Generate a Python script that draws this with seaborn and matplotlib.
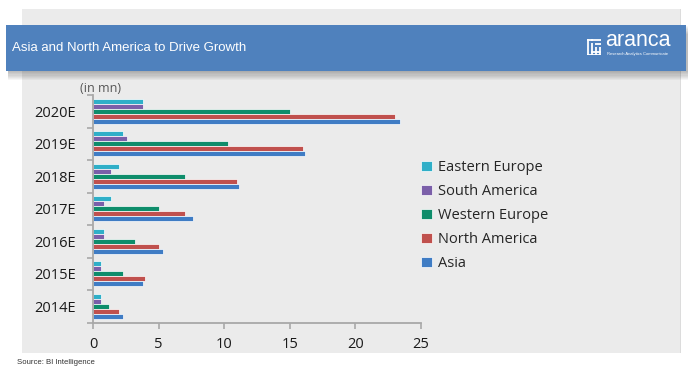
import matplotlib
matplotlib.use('Agg')
import matplotlib.pyplot as plt
import seaborn as sns
import pandas as pd
import numpy as np
from matplotlib.patches import Rectangle
from matplotlib import font_manager

# ---------------- data ----------------
years = ['2020E', '2019E', '2018E', '2017E', '2016E', '2015E', '2014E']
regions = ['Eastern Europe', 'South America', 'Western Europe', 'North America', 'Asia']
eastern_europe = [3.8, 2.3, 2.0, 1.4, 0.85, 0.6, 0.6]
south_america = [3.8, 2.6, 1.4, 0.85, 0.85, 0.6, 0.6]
western_europe = [15.0, 10.3, 7.05, 5.0, 3.2, 2.3, 1.2]
north_america = [23.0, 16.0, 11.0, 7.0, 5.0, 4.0, 2.0]
asia = [23.4, 16.15, 11.1, 7.6, 5.3, 3.8, 2.3]
xticks = [0, 5, 10, 15, 20, 25]
title = 'Asia and North America to Drive Growth'
unit_label = '(in mn)'
source = 'Source: BI Intelligence'

colors = ['#2fafc8', '#7b5fa9', '#0e8d6b', '#c0504d', '#3f7cc4']

series = [eastern_europe, south_america, western_europe, north_america, asia]
rows = []
for reg, vals in zip(regions, series):
    for y, v in zip(years, vals):
        rows.append({'year': y, 'region': reg, 'value': v})
df = pd.DataFrame(rows)

# ---------------- style ----------------
sns.set_theme(style='white')
plt.rcParams['font.family'] = ['Open Sans', 'DejaVu Sans']

names = {f.name for f in font_manager.fontManager.ttflist}
if 'Liberation Sans Narrow' in names:
    title_family, title_size = 'Liberation Sans Narrow', 11.5
else:
    title_family, title_size = 'Liberation Sans', 9.5

W, H = 700, 384
fig = plt.figure(figsize=(7, 3.84), dpi=100, facecolor='white')


def fx(px):
    return px / W


def fy(py):
    return 1 - py / H


def add_rect(x0, y0, x1, y1, **kw):
    r = Rectangle((fx(x0), fy(y1)), fx(x1) - fx(x0), fy(y0) - fy(y1),
                  transform=fig.transFigure, **kw)
    fig.patches.append(r)
    return r


# grey panel
add_rect(22, 9, 681, 353, facecolor='#ebebeb', edgecolor='none', zorder=-3)
add_rect(679.5, 9, 681, 353, facecolor='#dcdcdc', edgecolor='none', zorder=-3)

# banner shadow
for k in range(1, 9):
    add_rect(6 + 2, 24.5 + k * 1.2, 686 + 1.5, 70.7 + k * 1.2,
             facecolor='black', edgecolor='none', alpha=0.035, zorder=-2)
# banner
add_rect(6, 24.5, 686, 70.7, facecolor='#4f81bd', edgecolor='none', zorder=-1)

fig.text(fx(11.5), fy(48), title, color='white', fontsize=title_size,
         family=title_family, va='center', ha='left', zorder=3)

# logo
fig.text(fx(605.5), fy(51.5), 'aranca', color='white', fontsize=15.5,
         family='Liberation Sans', va='bottom', ha='left', zorder=3)
fig.text(fx(607), fy(51.8), 'Research Analytics Communicate', color='white',
         fontsize=3.0, family='Liberation Sans', va='top', ha='left', zorder=3)
# small icon built from white strokes
icon = [(587, 39, 589, 55), (591, 39, 601, 40.5), (591, 43, 593, 55), (595, 43, 601, 44.5),
        (595, 47, 597, 55), (599, 47, 601, 55), (587, 39, 593, 40.5), (591, 51, 601, 52.5),
        (587, 53.5, 601, 55)]
for (a, b, c, d) in icon:
    add_rect(a, b, c, d, facecolor='white', edgecolor='none', alpha=0.9, zorder=0)

# ---------------- chart ----------------
ax = fig.add_axes([fx(93), fy(322.7), fx(421) - fx(93), fy(95) - fy(322.7)])
ax.set_zorder(5)
ax.set_facecolor('none')
sns.barplot(data=df, x='value', y='year', hue='region', order=years,
            hue_order=regions, palette=colors, orient='h', width=0.77,
            saturation=1, errorbar=None, edgecolor='white', linewidth=0.5, ax=ax)

ax.set_xlim(0, 25)
ax.set_ylim(6.5, -0.5)
ax.set_xlabel('')
ax.set_ylabel('')
ax.set_xticks(xticks)
ax.set_xticklabels([str(t) for t in xticks], fontsize=10.5, color='#1a1a1a')
ax.set_yticks(range(len(years)))
ax.set_yticklabels(years, fontsize=10.5, color='#1a1a1a')
ax.set_yticks(np.arange(-0.5, len(years), 1), minor=True)

for s in ['top', 'right']:
    ax.spines[s].set_visible(False)
for s in ['left', 'bottom']:
    ax.spines[s].set_color('#a8a8a8')
    ax.spines[s].set_linewidth(1.3)

ax.tick_params(axis='x', which='major', length=4, width=1.2, color='#a8a8a8',
               direction='out', pad=6, bottom=True)
ax.tick_params(axis='y', which='major', length=0, pad=12, left=True)
ax.tick_params(axis='y', which='minor', length=4, width=1.2, color='#a8a8a8',
               direction='out', left=True)

fig.text(fx(80.5), fy(89), unit_label, fontsize=9, color='#555555',
         va='center', ha='left')

handles, labels = ax.get_legend_handles_labels()
if ax.get_legend() is not None:
    ax.get_legend().remove()
fig.legend(handles, labels, loc='upper left', bbox_to_anchor=(fx(421.5), fy(160)),
           frameon=False, fontsize=10.5, handlelength=0.7, handleheight=0.7,
           handletextpad=0.4, labelspacing=0.62, borderaxespad=0, borderpad=0)

fig.text(fx(17), fy(363), source, fontsize=5.6, color='#333333',
         family='Liberation Sans', va='center', ha='left')

fig.savefig('out.png', dpi=100, facecolor='white')
